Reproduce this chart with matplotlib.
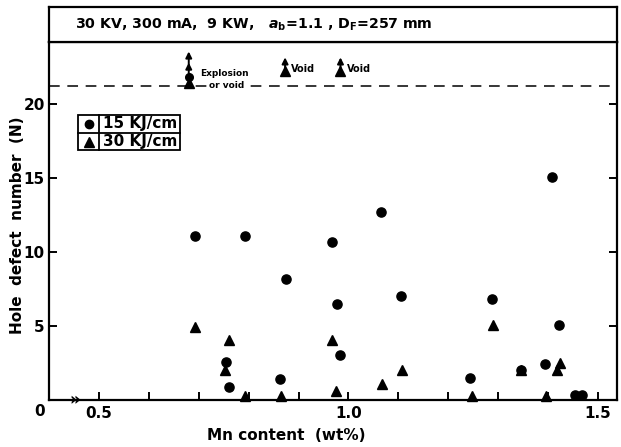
import matplotlib
matplotlib.use("Agg")
import matplotlib.pyplot as plt
from matplotlib.patches import Rectangle

plt.rcParams['font.family'] = ['DejaVu Sans']
plt.rcParams['font.weight'] = 'bold'
plt.rcParams['mathtext.default'] = 'bf'

# ---- data ----
circle_mn = [0.692, 0.793, 0.966, 1.065, 0.875, 1.105, 0.977, 0.984, 0.755, 0.761,
             0.863, 1.408, 1.287, 1.422, 1.243, 1.393, 1.346, 1.454, 1.467]
circle_n = [11.08, 11.06, 10.66, 12.68, 8.16, 7.05, 6.51, 3.04, 2.55, 0.90,
            1.42, 15.10, 6.80, 5.05, 1.47, 2.41, 2.03, 0.34, 0.34]

tri_mn = [0.692, 0.761, 0.752, 0.793, 0.865, 0.966, 0.976, 1.068, 1.107, 1.289,
          1.424, 1.417, 1.247, 1.396, 1.346]
tri_n = [4.91, 4.05, 2.03, 0.25, 0.25, 4.05, 0.63, 1.08, 2.03, 5.07,
         2.48, 2.03, 0.25, 0.25, 2.03]

limit_n = 21.2
over_mn = [0.680, 0.873, 0.984]
over_labels = ["Explosion", "or void", "Void", "Void"]

x_ticks = [0.5, 0.6, 0.7, 0.8, 0.9, 1.0, 1.1, 1.2, 1.3, 1.4, 1.5]
x_ticklabels = ["0.5", "", "", "", "", "1.0", "", "", "", "", "1.5"]
y_ticks = [5, 10, 15, 20]
y_ticklabels = ["5", "10", "15", "20"]
legend_labels = ["15 KJ/cm", "30 KJ/cm"]
header = r"30 KV, 300 mA,  9 KW,   $\mathit{a}_\mathbf{b}$=1.1 , D$_\mathbf{F}$=257 mm"

W, H = 621, 447
fig = plt.figure(figsize=(W / 100, H / 100), dpi=100)

def fx(x):
    return x / W

def fy(y):
    return 1 - y / H

L, R, B, T = 49, 617, 400, 42
ax = fig.add_axes([fx(L), fy(B), fx(R) - fx(L), fy(T) - fy(B)])
ax.set_xlim(0.4, 1.538)
ax.set_ylim(0, 24.19)

for s in ax.spines.values():
    s.set_linewidth(1.6)

ax.set_xticks(x_ticks)
ax.set_xticklabels(x_ticklabels, fontsize=11, fontweight='bold')
ax.set_yticks(y_ticks)
ax.set_yticklabels(y_ticklabels, fontsize=11, fontweight='bold')
ax.tick_params(axis='both', direction='in', length=6, width=1.4, pad=3)
ax.tick_params(axis='y', right=True)
ax.tick_params(axis='x', pad=4)

# data marks
ax.plot(circle_mn, circle_n, 'o', color='black', ms=6.6, clip_on=False, zorder=5)
ax.plot(tri_mn, tri_n, '^', color='black', ms=7.2, clip_on=False, zorder=5)

# limit line
ax.axhline(limit_n, color='black', lw=1.1, ls=(0, (7, 5)), zorder=2)

# explosion / void markers above the limit
ex = over_mn[0]
ax.plot([ex], [21.4], '^', color='black', ms=6.5, zorder=6)
ax.plot([ex], [21.85], 'o', color='black', ms=5.5, zorder=6)
ax.annotate("", xy=(ex, 22.8), xytext=(ex, 21.9),
            arrowprops=dict(arrowstyle='-|>', color='black', lw=1.4,
                            mutation_scale=9, shrinkA=0, shrinkB=0), zorder=6)
ax.annotate("", xy=(ex, 23.55), xytext=(ex, 22.7),
            arrowprops=dict(arrowstyle='-|>', color='black', lw=1.4,
                            mutation_scale=9, shrinkA=0, shrinkB=0), zorder=6)
ax.text(ex + 0.022, 22.05, over_labels[0], fontsize=6.5, fontweight='bold',
        ha='left', va='center', zorder=7)
ax.text(ex + 0.075, 21.28, over_labels[1], fontsize=6.5, fontweight='bold',
        ha='center', va='center', zorder=7,
        bbox=dict(facecolor='white', edgecolor='none', pad=0.3))

for vx, lab in zip(over_mn[1:], over_labels[2:]):
    ax.plot([vx], [22.25], '^', color='black', ms=7, zorder=6)
    ax.annotate("", xy=(vx, 23.15), xytext=(vx, 22.3),
                arrowprops=dict(arrowstyle='-|>', color='black', lw=1.4,
                                mutation_scale=9, shrinkA=0, shrinkB=0), zorder=6)
    ax.text(vx + 0.012, 22.35, lab, fontsize=7, fontweight='bold',
            ha='left', va='center', zorder=7)

# legend box (manual, like the original table)
lx0, lx1, lxd = 0.4585, 0.662, 0.50
ly0, ly1, lym = 16.9, 19.26, 18.05
ax.add_patch(Rectangle((lx0, ly0), lx1 - lx0, ly1 - ly0, fill=False,
                       edgecolor='black', lw=1.3, zorder=4))
ax.plot([lxd, lxd], [ly0, ly1], color='black', lw=1.3, zorder=4)
ax.plot([lx0, lx1], [lym, lym], color='black', lw=1.3, zorder=4)
ax.plot([0.4795], [18.65], 'o', color='black', ms=6, zorder=5)
ax.plot([0.4795], [17.45], '^', color='black', ms=6.5, zorder=5)
ax.text(0.509, 18.65, legend_labels[0], fontsize=11, fontweight='bold',
        ha='left', va='center', zorder=5)
ax.text(0.509, 17.45, legend_labels[1], fontsize=11, fontweight='bold',
        ha='left', va='center', zorder=5)

# axis break mark
ax.text(0.452, 0, "»", fontsize=12, fontweight='bold', ha='center', va='center',
        clip_on=False, zorder=6)

# header box
hax = fig.add_axes([fx(L), fy(T), fx(R) - fx(L), fy(7) - fy(T)])
hax.set_xticks([])
hax.set_yticks([])
for s in hax.spines.values():
    s.set_linewidth(1.6)
hax.text((75 - L) / (R - L), 0.5, header, fontsize=10.2, fontweight='bold',
         ha='left', va='center', transform=hax.transAxes)

# origin label and axis titles
fig.text(fx(40), fy(411), "0", fontsize=11, fontweight='bold', ha='center', va='center')
fig.text(fx(286), fy(436), "Mn content  (wt%)", fontsize=11, fontweight='bold',
         ha='center', va='center')
fig.text(fx(18), fy(225), "Hole  defect  number  (N)", fontsize=11, fontweight='bold',
         ha='center', va='center', rotation=90)

fig.savefig("out.png", dpi=100)
